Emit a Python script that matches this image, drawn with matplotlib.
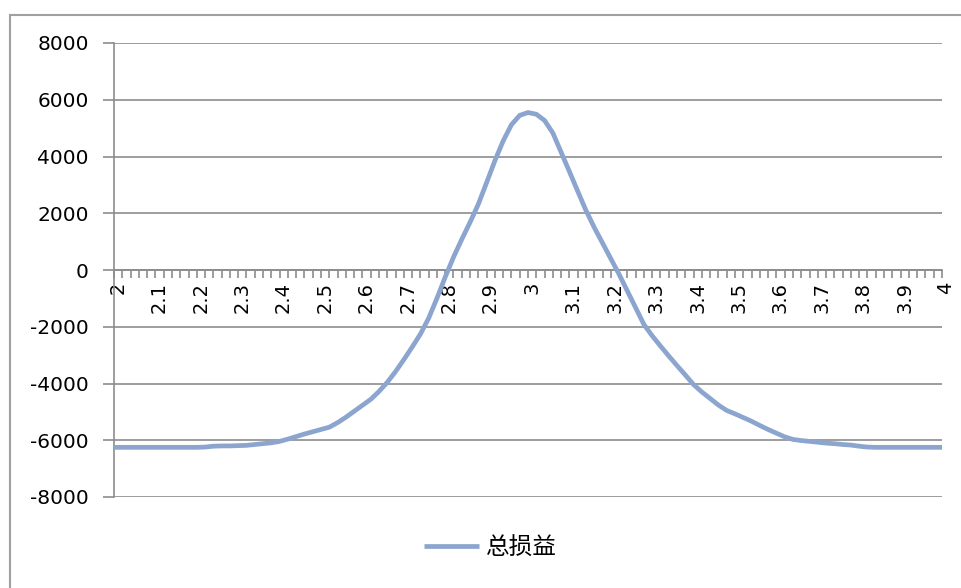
import matplotlib
matplotlib.use("Agg")
import matplotlib.pyplot as plt
from matplotlib.patches import Rectangle
from matplotlib.font_manager import FontProperties
from matplotlib.transforms import ScaledTranslation

plt.rcParams["axes.unicode_minus"] = False

# category axis: underlying price 2.00 .. 4.00 in 0.02 steps
prices = [round(2 + 0.02 * i, 2) for i in range(101)]

# total P&L (总损益)
pnl = [
    -6250, -6250, -6250, -6250, -6250, -6250, -6250, -6250, -6250, -6250,
    -6250, -6240, -6210, -6200, -6200, -6190, -6180, -6150, -6120, -6090,
    -6040, -5960, -5870, -5780, -5700, -5620, -5540, -5380, -5190, -4980,
    -4770, -4560, -4280, -3960, -3580, -3160, -2720, -2260, -1700, -1000,
    -250, 450, 1080, 1680, 2320, 3080, 3850, 4550, 5120, 5450,
    5550, 5490, 5270, 4830, 4150, 3470, 2780, 2100, 1500, 950,
    400, -150, -740, -1330, -1920, -2320, -2680, -3030, -3370, -3700,
    -4040, -4300, -4530, -4760, -4950, -5070, -5200, -5330, -5480, -5620,
    -5750, -5880, -5970, -6010, -6040, -6070, -6100, -6120, -6150, -6170,
    -6210, -6240, -6250, -6250, -6250, -6250, -6250, -6250, -6250, -6250,
    -6250,
]
series_name = "总损益"
y_ticks = list(range(-8000, 8001, 2000))

LINE = "#8CA5CF"
GRID = "#8c8c8c"
BORDER = "#a0a0a0"

fig = plt.figure(figsize=(9.62, 5.88), dpi=100)
fig.patch.set_facecolor("white")
ax = fig.add_axes([114 / 962, 1 - 497 / 588, 828 / 962, 454 / 588])

x = list(range(len(prices)))
ax.plot(x, pnl, color=LINE, lw=3.4, solid_joinstyle="round",
        solid_capstyle="butt", label=series_name, zorder=3)

ax.set_xlim(0, len(prices) - 1)
ax.set_ylim(y_ticks[0], y_ticks[-1])
ax.set_yticks(y_ticks)
ax.yaxis.grid(True, color=GRID, lw=1.2)
ax.set_axisbelow(True)

for s in ("top", "right"):
    ax.spines[s].set_visible(False)
ax.spines["left"].set_color(GRID)
ax.spines["left"].set_linewidth(1.2)
ax.spines["bottom"].set_position(("data", 0))
ax.spines["bottom"].set_color(GRID)
ax.spines["bottom"].set_linewidth(1.2)

ax.set_xticks(x)
ax.set_xticklabels([f"{p:g}" if i % 5 == 0 else "" for i, p in enumerate(prices)])
ax.tick_params(axis="x", direction="out", length=5.5, width=1.2, color=GRID,
               labelsize=14, labelrotation=90, pad=3, labelcolor="black")
ax.tick_params(axis="y", direction="out", length=8, width=1.2, color=GRID,
               labelsize=14.5, pad=10, labelcolor="black")

# Excel puts the rotated labels a little right of their tick
shift = ScaledTranslation(4 / 100, 0, fig.dpi_scale_trans)
for lab in ax.get_xticklabels():
    lab.set_transform(lab.get_transform() + shift)

fig.legend(loc="center", bbox_to_anchor=(490 / 962, 40 / 588), frameon=False,
           prop=FontProperties(family=["Noto Sans CJK SC", "DejaVu Sans"], size=17),
           handlelength=2.33, handletextpad=0.3)

# outer chart-area border (right/bottom edges fall outside the picture)
fig.add_artist(Rectangle((10 / 962, -0.2), 1.2, 1 - 15 / 588 + 0.2,
                         transform=fig.transFigure, fill=False,
                         edgecolor=BORDER, lw=1.5))

fig.savefig("out.png", dpi=100)
